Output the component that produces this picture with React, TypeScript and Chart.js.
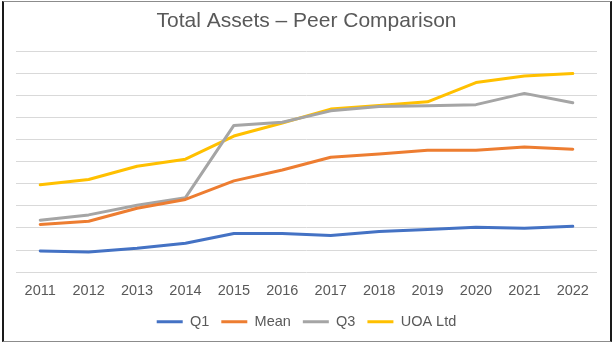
import React, { useEffect, useRef } from "react";
import { Chart, registerables } from "chart.js";

Chart.register(...registerables);

const years = ["2011", "2012", "2013", "2014", "2015", "2016", "2017", "2018", "2019", "2020", "2021", "2022"];
const q1 = [0.96, 0.91, 1.08, 1.31, 1.75, 1.75, 1.66, 1.84, 1.93, 2.03, 1.98, 2.07];
const mean = [2.16, 2.3, 2.89, 3.29, 4.13, 4.62, 5.2, 5.35, 5.52, 5.52, 5.66, 5.56];
const q3 = [2.35, 2.59, 3.03, 3.37, 6.64, 6.78, 7.3, 7.5, 7.53, 7.58, 8.09, 7.67];
const uoa = [3.95, 4.19, 4.79, 5.11, 6.16, 6.75, 7.38, 7.54, 7.71, 8.58, 8.88, 8.99];

const seriesNames = ["Q1", "Mean", "Q3", "UOA Ltd"];
const seriesColors = ["#4472C4", "#ED7D31", "#A5A5A5", "#FFC000"];

const shiftLegend = {
  id: "shiftLegend",
  afterLayout(chart: any) {
    const lg = chart.legend;
    if (lg) {
      lg.top -= 7;
      lg.bottom -= 7;
    }
  },
};

export default function App() {
  const ref = useRef<HTMLCanvasElement>(null);

  useEffect(() => {
    document.body.style.margin = "0";
    const FONT = "'Liberation Sans', Arial, sans-serif";
    const values = [q1, mean, q3, uoa];
    const defaultGen = (Chart.defaults.plugins.legend.labels as any).generateLabels;
    const chart = new Chart(ref.current!, {
      type: "line",
      data: {
        labels: years,
        datasets: values.map((v, i) => ({
          label: seriesNames[i],
          data: v,
          borderColor: seriesColors[i],
          backgroundColor: seriesColors[i],
          borderWidth: 3,
          pointRadius: 0,
          tension: 0,
          borderJoinStyle: "round" as const,
          borderCapStyle: "round" as const,
        })),
      },
      plugins: [shiftLegend],
      options: {
        animation: false,
        responsive: false,
        maintainAspectRatio: false,
        layout: { padding: { left: 16, right: 17, top: 0, bottom: 0 } },
        plugins: {
          title: {
            display: true,
            text: "Total Assets – Peer Comparison",
            color: "#595959",
            font: { family: FONT, size: 21, weight: "normal" },
            padding: { top: 9, bottom: 17 },
          },
          legend: {
            position: "bottom",
            labels: {
              color: "#595959",
              font: { family: FONT, size: 14.5 },
              boxWidth: 26,
              boxHeight: 3,
              padding: 12,
              generateLabels: (c: any) =>
                defaultGen(c).map((it: any) => ({ ...it, lineWidth: 0, fillStyle: it.strokeStyle })),
            },
          },
          tooltip: { enabled: false },
        },
        scales: {
          x: {
            offset: true,
            grid: { display: false, drawTicks: false },
            border: { display: false },
            ticks: {
              color: "#595959",
              font: { family: FONT, size: 14.5 },
              padding: 10,
              maxRotation: 0,
              autoSkip: false,
            },
          },
          y: {
            min: 0,
            max: 10,
            grid: { color: "#D9D9D9", lineWidth: 1, drawTicks: false },
            border: { display: false },
            ticks: { display: false, stepSize: 1 },
          },
        },
      },
    });
    return () => chart.destroy();
  }, []);

  return (
    <div style={{ position: "relative", width: 614, height: 346 }}>
      <canvas ref={ref} width={614} height={346} style={{ position: "absolute", left: 0, top: 0 }} />
      <div
        style={{
          position: "absolute",
          left: 2,
          top: 1,
          width: 606,
          height: 339,
          borderLeft: "2px solid #1a1a1a",
          borderRight: "2px solid #1a1a1a",
          borderTop: "1px solid #8c8c8c",
          borderBottom: "1px solid #8c8c8c",
          pointerEvents: "none",
        }}
      />
    </div>
  );
}
